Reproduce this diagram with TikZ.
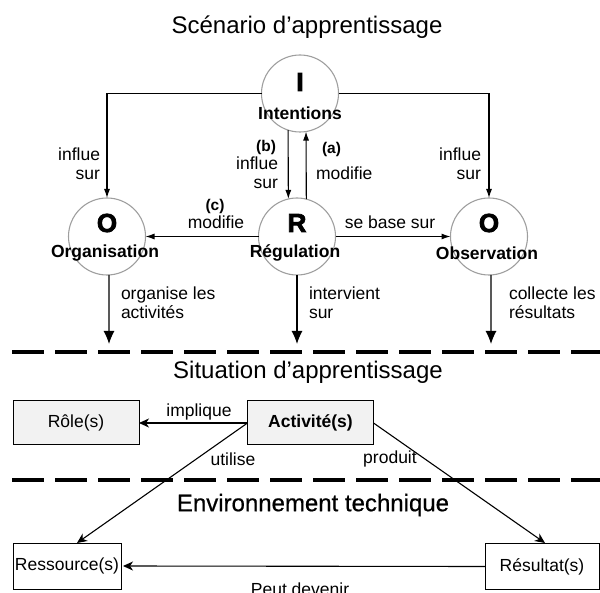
\documentclass[tikz,border=0pt]{standalone}
\usepackage{fontspec}
\setmainfont{Liberation Sans}
\newfontfamily\heavyfont[FakeBold=3]{Liberation Sans Bold}
\newfontfamily\semifont[FakeBold=0.6]{Liberation Sans}
\usetikzlibrary{arrows.meta}

\begin{document}
\begin{tikzpicture}[x=1pt,y=-1pt,
  every node/.style={inner sep=0pt,outer sep=0pt},
  title/.style={font=\fontsize{24}{28}\selectfont},
  lbl/.style={font=\fontsize{17.5}{19}\selectfont},
  tag/.style={font=\fontsize{15.5}{18}\selectfont\bfseries},
  pname/.style={font=\fontsize{17.5}{20}\selectfont\bfseries},
  letter/.style={font=\fontsize{26}{28}\selectfont\heavyfont},
  pole/.style={circle,draw=black!38,line width=1.1pt,minimum size=77pt},
  boxg/.style={draw=black,line width=1pt,fill=black!5,minimum width=126pt,minimum height=44pt,font=\fontsize{17.5}{20}\selectfont},
  boxw/.style={draw=black,line width=1pt,fill=white,minimum height=46pt,font=\fontsize{17.5}{20}\selectfont},
  link/.style={draw=black,line width=1.1pt,-{Latex[length=9pt,width=6pt]}},
  flow/.style={draw=black,line width=1.1pt,-{Latex[length=13pt,width=11pt]}},
  rel/.style={draw=black,line width=1.1pt,-{Stealth[length=10pt,width=9pt,inset=3pt]}},
  sep/.style={line width=4pt,dash pattern=on 32pt off 11pt}
]
\useasboundingbox (0,0) rectangle (600,593);
\clip (0,0) rectangle (600,593);

% --- Scénario d'apprentissage ---
\node[title] (t1) at (307,27) {Scénario d’apprentissage};

\node[pole] (I) at (300,93.5) {};
\node[letter] (Il) at (300,82) {I};
\node[pname] (In) at (300,113) {Intentions};

\node[pole] (Oo) at (107,236.5) {};
\node[letter] (Ool) at (107,223) {O};
\node[pname] (Oon) at (105,253) {Organisation};

\node[pole] (R) at (297,236.5) {};
\node[letter] (Rl) at (297,223) {R};
\node[pname] (Rn) at (295,253) {Régulation};

\node[pole] (Ob) at (489,236.5) {};
\node[letter] (Obl) at (489,223) {O};
\node[pname] (Obn) at (487,253) {Observation};

% influence of the intentions
\coordinate (cl) at (107,93.5);
\coordinate (cr) at (489,93.5);
\draw[link] (I.west) -- (cl) -- (Oo.north);
\draw[link] (I.east) -- (cr) -- (Ob.north);
\node[lbl,anchor=east,align=right] (l1) at (100,164) {influe\\sur};
\node[lbl,anchor=east,align=right] (l2) at (481,164) {influe\\sur};

% regulation loop
\draw[link] (I.-108) -- (R.103.5);
\draw[link] (R.76.5) -- (I.-81);
\node[tag,anchor=east] (lb) at (276,147) {(b)};
\node[lbl,anchor=east,align=right] (lb2) at (278,173) {influe\\sur};
\node[tag,anchor=west] (la) at (322,149) {(a)};
\node[lbl,anchor=west] (la2) at (316,173) {modifie};

\draw[link] (R.west) -- (Oo.east);
\draw[link] (R.east) -- (Ob.west);
\node[tag] (lc) at (215,206) {(c)};
\node[lbl] (lc2) at (216,222) {modifie};
\node[lbl] (ls) at (390,222) {se base sur};

% towards the learning situation
\coordinate (d1) at (109,344);
\coordinate (d2) at (297,344);
\coordinate (d3) at (491,344);
\draw[flow] (Oo.-87) -- (d1);
\draw[flow] (R.south) -- (d2);
\draw[flow] (Ob.-87) -- (d3);
\node[lbl,anchor=west,align=left] (o1) at (121,303) {organise les\\activités};
\node[lbl,anchor=west,align=left] (o2) at (309,303) {intervient\\sur};
\node[lbl,anchor=west,align=left] (o3) at (509,303) {collecte les\\résultats};

\draw[sep] (12,352) -- (600,352);

% --- Situation d'apprentissage ---
\node[title] (t2) at (308,372) {Situation d’apprentissage};

\node[boxg] (role) at (76,423) {Rôle(s)};
\node[boxg,font=\fontsize{17.5}{20}\selectfont\bfseries] (act) at (310.5,423) {Activité(s)};
\draw[rel] (act.west) -- (role.east);
\node[lbl] (li) at (199,412) {implique};

\coordinate (rt) at (77,543);
\coordinate (st) at (545,543);

\draw[sep] (12,480) -- (600,480);

% --- Environnement technique ---
\node[title,font=\fontsize{24}{28}\selectfont\semifont] (t3) at (313,505) {Environnement technique};

\node[boxw,minimum width=108pt] (res) at (67,566) {Ressource(s)};
\node[boxw,minimum width=114pt] (out) at (542,566.5) {Résultat(s)};
\draw[rel] (act.west) -- (rt);
\draw[rel] (act.east) -- (st);
\node[lbl] (lu) at (233,459) {utilise};
\node[lbl] (lp) at (390,459) {produit};

\draw[rel,shorten >=2pt] (out.west) -- (res.east);
\node[lbl] (lpd) at (300,589) {Peut devenir};
\end{tikzpicture}
\end{document}
